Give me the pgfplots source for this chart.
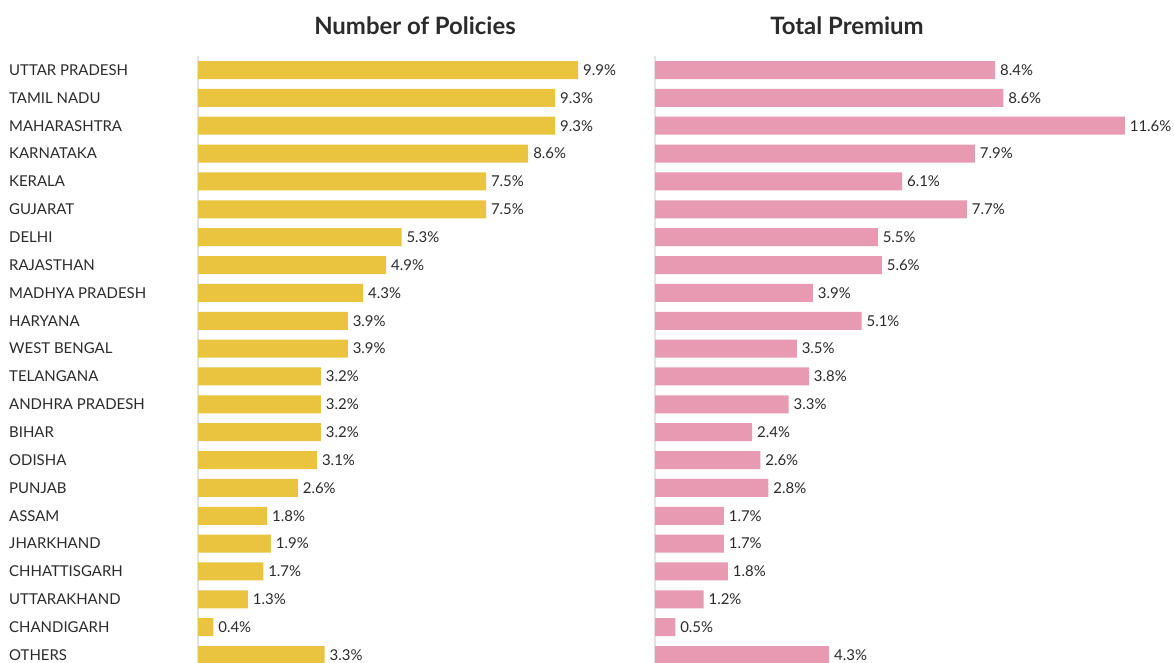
\documentclass[border=0pt]{standalone}
\usepackage{pgfplots}
\pgfplotsset{compat=1.18}
\usepackage{fontspec}
\setmainfont{Lato}
\definecolor{baryellow}{HTML}{EBC43F}
\definecolor{barpink}{HTML}{E89AB3}
\definecolor{txt}{HTML}{2B2B2B}
\definecolor{axgray}{HTML}{E2E2E2}
\begin{document}
\begin{tikzpicture}[x=1bp,y=1bp]
\useasboundingbox (0,0) rectangle (1174,663);
\clip (0,0) rectangle (1174,663);
\fill[white] (0,0) rectangle (1174,663);
\pgfplotsset{
  panel/.style={
    xbar, y dir=reverse,
    scale only axis,
    height=612.9bp,
    ymin=-0.5, ymax=21.5,
    xmin=0,
    bar width=18bp,
    axis x line=none,
    axis y line*=left,
    axis line style={draw=axgray, line width=1.2bp, -},
    major tick length=0pt,
    ytick={0,...,21},
    /pgf/number format/assume math mode=true,
    nodes near coords={\pgfmathprintnumber[fixed,fixed zerofill,precision=1]{\pgfplotspointmeta}\%},
    nodes near coords style={anchor=west, xshift=1.5bp, font=\fontsize{15}{17}\selectfont, text=txt},
    clip=false,
  }
}
% Left panel
\begin{axis}[panel,
  at={(198bp,-6bp)}, anchor=south west,
  width=422.4bp, xmax=11,
  yticklabels={UTTAR PRADESH, TAMIL NADU, MAHARASHTRA, KARNATAKA, KERALA, GUJARAT, DELHI, RAJASTHAN, MADHYA PRADESH, HARYANA, WEST BENGAL, TELANGANA, ANDHRA PRADESH, BIHAR, ODISHA, PUNJAB, ASSAM, JHARKHAND, CHHATTISGARH, UTTARAKHAND, CHANDIGARH, OTHERS},
  yticklabel style={anchor=west, xshift=-189bp, inner xsep=0pt, font=\fontsize{15}{17}\selectfont, text=txt},
]
\addplot[fill=baryellow, draw=none] coordinates {
(9.9,0) (9.3,1) (9.3,2) (8.6,3) (7.5,4) (7.5,5) (5.3,6) (4.9,7) (4.3,8) (3.9,9) (3.9,10) (3.2,11) (3.2,12) (3.2,13) (3.1,14) (2.6,15) (1.8,16) (1.9,17) (1.7,18) (1.3,19) (0.4,20) (3.3,21)
};
\end{axis}
% Right panel
\begin{axis}[panel,
  at={(655bp,-6bp)}, anchor=south west,
  width=506.25bp, xmax=12.5,
  yticklabels={},
]
\addplot[fill=barpink, draw=none] coordinates {
(8.4,0) (8.6,1) (11.6,2) (7.9,3) (6.1,4) (7.7,5) (5.5,6) (5.6,7) (3.9,8) (5.1,9) (3.5,10) (3.8,11) (3.3,12) (2.4,13) (2.6,14) (2.8,15) (1.7,16) (1.7,17) (1.8,18) (1.2,19) (0.5,20) (4.3,21)
};
\end{axis}
\node[font=\bfseries\fontsize{24}{27}\selectfont, text=txt] at (415,637) {Number of Policies};
\node[font=\bfseries\fontsize{24}{27}\selectfont, text=txt] at (847,637) {Total Premium};
\end{tikzpicture}
\end{document}
